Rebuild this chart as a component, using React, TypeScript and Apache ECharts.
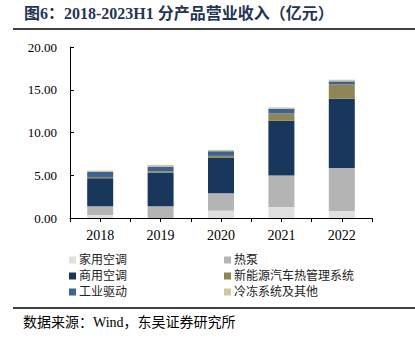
import React, { useEffect, useRef } from "react";
import * as echarts from "echarts";

const categories = ["2018", "2019", "2020", "2021", "2022"];
const tickSlots = ["a", "b", "c", "d", "e", "f", "g", "h", "i", "j"];
const seriesNames = ["家用空调", "热泵", "商用空调", "新能源汽车热管理系统", "工业驱动", "冷冻系统及其他"];
const household = [0.35, 0.0, 0.86, 1.29, 0.82];
const heatPump = [1.02, 1.37, 2.03, 3.67, 5.04];
const commercial = [3.28, 3.94, 4.14, 6.41, 8.09];
const nevThermal = [0.15, 0.16, 0.24, 0.85, 1.68];
const industrial = [0.59, 0.55, 0.54, 0.55, 0.35];
const refrigeration = [0.16, 0.19, 0.16, 0.16, 0.19];
const colors = ["#e0e0e0", "#b4b4b4", "#19365c", "#8e8654", "#3d6294", "#cfc79d"];
const yTicks = [0, 5, 10, 15, 20];

const serif = "'Liberation Serif', 'Times New Roman', 'Noto Sans CJK SC', serif";
const cjk = "'Liberation Serif', 'Noto Sans CJK SC', serif";

export default function App() {
  const ref = useRef<HTMLDivElement>(null);
  useEffect(() => {
    if (!ref.current) return;
    const chart = echarts.init(ref.current, undefined, { renderer: "svg" });
    const values = [household, heatPump, commercial, nevThermal, industrial, refrigeration];
    chart.setOption({
      animation: false,
      backgroundColor: "#ffffff",
      color: colors,
      grid: { left: 70, right: 43, top: 47, bottom: 127, containLabel: false },
      xAxis: [
        {
          type: "category",
          data: categories,
          position: "bottom",
          axisLine: { show: true, lineStyle: { color: "#000", width: 1 } },
          axisTick: { show: false },
          axisLabel: { color: "#000", fontSize: 14, fontFamily: serif, margin: 10 },
        },
        {
          type: "category",
          data: tickSlots,
          position: "bottom",
          axisLine: { show: false },
          axisTick: { show: true, length: 4, lineStyle: { color: "#000" } },
          axisLabel: { show: false },
        },
      ],
      yAxis: {
        type: "value",
        min: yTicks[0],
        max: yTicks[yTicks.length - 1],
        interval: 5,
        axisLine: { show: true, lineStyle: { color: "#000", width: 1 } },
        axisTick: { show: true, inside: true, length: 4, lineStyle: { color: "#000" } },
        splitLine: { show: false },
        axisLabel: {
          color: "#000",
          fontSize: 13,
          fontFamily: serif,
          margin: 13,
          formatter: (v: number) => v.toFixed(2),
        },
      },
      legend: [
        {
          orient: "vertical",
          left: 64,
          top: 249,
          itemWidth: 7,
          itemHeight: 7,
          itemGap: 4,
          icon: "rect",
          textStyle: { fontSize: 12, color: "#222", fontFamily: cjk, padding: [0, 0, 0, -2] },
          data: [seriesNames[0], seriesNames[2], seriesNames[4]],
        },
        {
          orient: "vertical",
          left: 219,
          top: 249,
          itemWidth: 7,
          itemHeight: 7,
          itemGap: 4,
          icon: "rect",
          textStyle: { fontSize: 12, color: "#222", fontFamily: cjk, padding: [0, 0, 0, -2] },
          data: [seriesNames[1], seriesNames[3], seriesNames[5]],
        },
      ],
      series: seriesNames.map((name, i) => ({
        name,
        type: "bar",
        stack: "total",
        barWidth: 26,
        xAxisIndex: 0,
        data: values[i],
        itemStyle: { color: colors[i] },
      })),
      graphic: [
        {
          type: "text",
          left: 24,
          top: 5,
          style: {
            text: "图6：2018-2023H1 分产品营业收入（亿元）",
            fontSize: 16,
            fontWeight: "bold",
            fontFamily: cjk,
            fill: "#1f3553",
          },
        },
        {
          type: "line",
          shape: { x1: 13, y1: 29, x2: 415, y2: 29 },
          style: { stroke: "#000", lineWidth: 1.5 },
        },
        {
          type: "line",
          shape: { x1: 13, y1: 308, x2: 415, y2: 308 },
          style: { stroke: "#000", lineWidth: 1.5 },
        },
        {
          type: "text",
          left: 23,
          top: 315,
          style: {
            text: "数据来源：Wind，东吴证券研究所",
            fontSize: 14,
            fontFamily: cjk,
            fill: "#000",
          },
        },
      ],
    });
    return () => chart.dispose();
  }, []);
  return (
    <div
      ref={ref}
      style={{ position: "fixed", left: 0, top: 0, width: 415, height: 345, background: "#fff" }}
    />
  );
}
